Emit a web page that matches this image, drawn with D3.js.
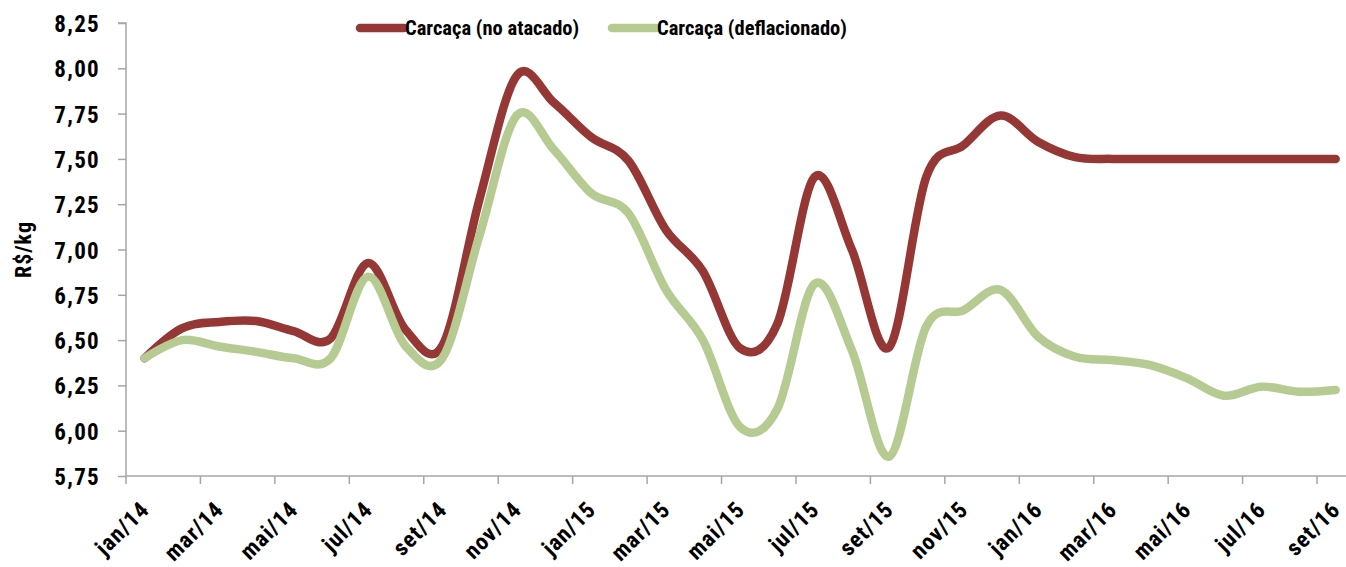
<!DOCTYPE html>
<html><head><meta charset="utf-8">
<script src="https://cdn.jsdelivr.net/npm/d3@7"></script>
<style>
body{margin:0;background:#fff;}
svg text{font-family:"Liberation Sans Narrow","Roboto Condensed","Liberation Sans",sans-serif;font-weight:bold;fill:#000;}
</style></head>
<body><svg id="c" width="1346" height="567"></svg>
<script>
const months = ["jan/14","fev/14","mar/14","abr/14","mai/14","jun/14","jul/14","ago/14","set/14","out/14","nov/14","dez/14",
"jan/15","fev/15","mar/15","abr/15","mai/15","jun/15","jul/15","ago/15","set/15","out/15","nov/15","dez/15",
"jan/16","fev/16","mar/16","abr/16","mai/16","jun/16","jul/16","ago/16","set/16"];
const atacado = [6.40,6.565,6.60,6.605,6.55,6.51,6.925,6.56,6.47,7.28,7.96,7.81,7.62,7.49,7.11,6.88,6.455,6.59,7.40,7.00,6.46,7.40,7.575,7.74,7.595,7.51,7.50,7.50,7.50,7.50,7.50,7.50,7.50];
const deflacionado = [6.40,6.50,6.465,6.435,6.40,6.40,6.85,6.47,6.40,7.08,7.74,7.55,7.31,7.20,6.78,6.50,6.02,6.12,6.81,6.445,5.857,6.575,6.665,6.777,6.52,6.408,6.39,6.363,6.29,6.193,6.243,6.215,6.225];
const yTicks = [5.75,6.00,6.25,6.50,6.75,7.00,7.25,7.50,7.75,8.00,8.25];
const seriesNames = ["Carcaça (no atacado)","Carcaça (deflacionado)"];
const colors = ["#953735","#b5cb92"];
const yTitle = "R$/kg";

const svg = d3.select("#c");
const L = 126, T = 23, B = 476, monthW = 37.22;
const x = d3.scaleBand().domain(months).range([L, L + months.length*monthW]).paddingInner(0).paddingOuter(0);
const y = d3.scaleLinear().domain([5.75, 8.25]).range([B, T]);
const axisColor = "#a6a6a6";

// y axis
const ya = svg.append("g").attr("transform", `translate(${L},0)`)
  .call(d3.axisLeft(y).tickValues(yTicks).tickSize(8).tickPadding(18)
    .tickFormat(d => d.toFixed(2).replace(".", ",")));
ya.selectAll("path,line").attr("stroke", axisColor).attr("stroke-width", 1.5);
ya.select(".domain").attr("d", `M-8,${y(8.25)}H0V${y(5.75)}`);
ya.selectAll("text").style("font-size", "23px").style("letter-spacing", "1.3px").attr("dy", "0.37em");

// x axis
const xa = svg.append("g");
xa.append("line").attr("x1", L).attr("x2", 1346).attr("y1", B).attr("y2", B)
  .attr("stroke", axisColor).attr("stroke-width", 1.5);
const tickMonths = months.filter((m, i) => i % 2 === 0);
xa.selectAll("line.t").data(tickMonths).join("line").attr("class", "t")
  .attr("x1", d => x(d)).attr("x2", d => x(d)).attr("y1", B).attr("y2", B + 8)
  .attr("stroke", axisColor).attr("stroke-width", 1.5);
xa.selectAll("text").data(tickMonths).join("text")
  .attr("text-anchor", "end")
  .attr("transform", d => `translate(${x(d) + x.bandwidth()/2 + 6},${B + 35}) rotate(-45)`)
  .style("font-size", "23px").style("letter-spacing", "1px").text(d => d);

// y title
svg.append("text").attr("transform", `translate(31,${(T+B)/2}) rotate(-90)`)
  .attr("text-anchor", "middle").style("font-size", "22px").style("letter-spacing", "1px").text(yTitle);

// lines
const line = d3.line().x((d, i) => x(months[i]) + x.bandwidth()/2).y(d => y(d)).curve(d3.curveCardinal.tension(0));
[atacado, deflacionado].forEach((s, k) => {
  svg.append("path").attr("d", line(s)).attr("fill", "none").attr("stroke", colors[k])
    .attr("stroke-width", 8.5).attr("stroke-linecap", "round").attr("stroke-linejoin", "round");
});
// legend
const legX = [360, 612];
seriesNames.forEach((n, k) => {
  const g = svg.append("g").attr("transform", `translate(${legX[k]},28)`);
  g.append("line").attr("x1", 0).attr("x2", 44).attr("stroke", colors[k]).attr("stroke-width", 8.5).attr("stroke-linecap", "round");
  g.append("text").attr("x", 45).attr("dy", "0.35em").style("font-size", "20.5px").text(n);
});
</script></body></html>
